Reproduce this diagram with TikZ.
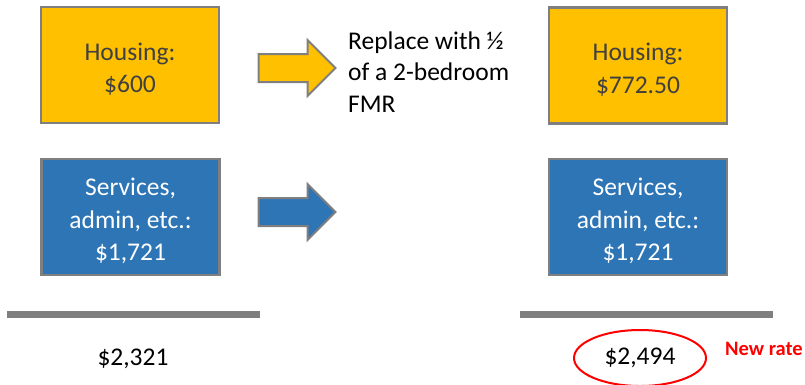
\documentclass[tikz,border=0pt]{standalone}
\usepackage{fontspec}
\setmainfont{Carlito}
\usetikzlibrary{shapes.geometric,shapes.arrows}
\definecolor{boxyellow}{HTML}{FFC000}
\definecolor{boxblue}{HTML}{2E75B6}
\definecolor{edgegray}{HTML}{7F7F7F}
\definecolor{darktext}{HTML}{404040}
\definecolor{ratered}{HTML}{FF0000}
\tikzset{
  x=1pt, y=-1pt,
  bigfont/.style={font=\fontsize{25.5}{32.5}\selectfont},
  costbox/.style={draw=edgegray, line width=2.2pt, minimum width=178pt, minimum height=116pt, inner sep=0pt},
  housebox/.style={costbox, fill=boxyellow},
  servbox/.style={costbox, fill=boxblue},
  boxtext/.style={bigfont, align=center, inner sep=0pt},
  blockarrow/.style={single arrow, draw=edgegray, line width=2pt, minimum height=77pt, single arrow head extend=14pt, inner xsep=0pt, inner ysep=13pt},
  sumline/.style={draw=edgegray, line width=6.5pt},
  total/.style={bigfont, text=black, inner sep=0pt}
}
\begin{document}
\begin{tikzpicture}
\useasboundingbox (0,0) rectangle (805,384);
% left column
\node[housebox] (h1) at (130,65) {};
\node[boxtext, text=darktext] (h1t) at (130,69) {Housing:\\\$600};
\node[servbox] (s1) at (130.5,217) {};
\node[boxtext, text=white] (s1t) at (130.5,221) {Services,\\admin, etc.:\\\$1,721};
% arrows
\node[blockarrow, fill=boxyellow] (a1) at (290,68) {};
\node[blockarrow, fill=boxblue] (a2) at (290,212) {};
% replace text
\node[bigfont, align=left, anchor=west, inner sep=0pt, font=\fontsize{25.5}{31.5}\selectfont] (rep) at (348,72) {Replace with ½\\of a 2-bedroom\\FMR};
% right column
\node[housebox] (h2) at (638,65.5) {};
\node[boxtext, text=darktext] (h2t) at (638,69.5) {Housing:\\\$772.50};
\node[servbox] (s2) at (638,217) {};
\node[boxtext, text=white] (s2t) at (638,221) {Services,\\admin, etc.:\\\$1,721};
% sum lines
\coordinate (l1a) at (7,314.5);
\coordinate (l1b) at (260,314.5);
\coordinate (l2a) at (520,314.5);
\coordinate (l2b) at (773,314.5);
\draw[sumline] (l1a) -- (l1b);
\draw[sumline] (l2a) -- (l2b);
% totals
\node[total] (t1) at (133,358.5) {\$2,321};
\node[total, draw=ratered, line width=2pt, ellipse, minimum width=132pt, minimum height=56pt] (t2) at (640,358) {\$2,494};
\node[anchor=west, text=ratered, font=\fontsize{20.5}{24}\selectfont\bfseries, inner sep=0pt] (nr) at (725,349) {New rate};
\end{tikzpicture}
\end{document}
